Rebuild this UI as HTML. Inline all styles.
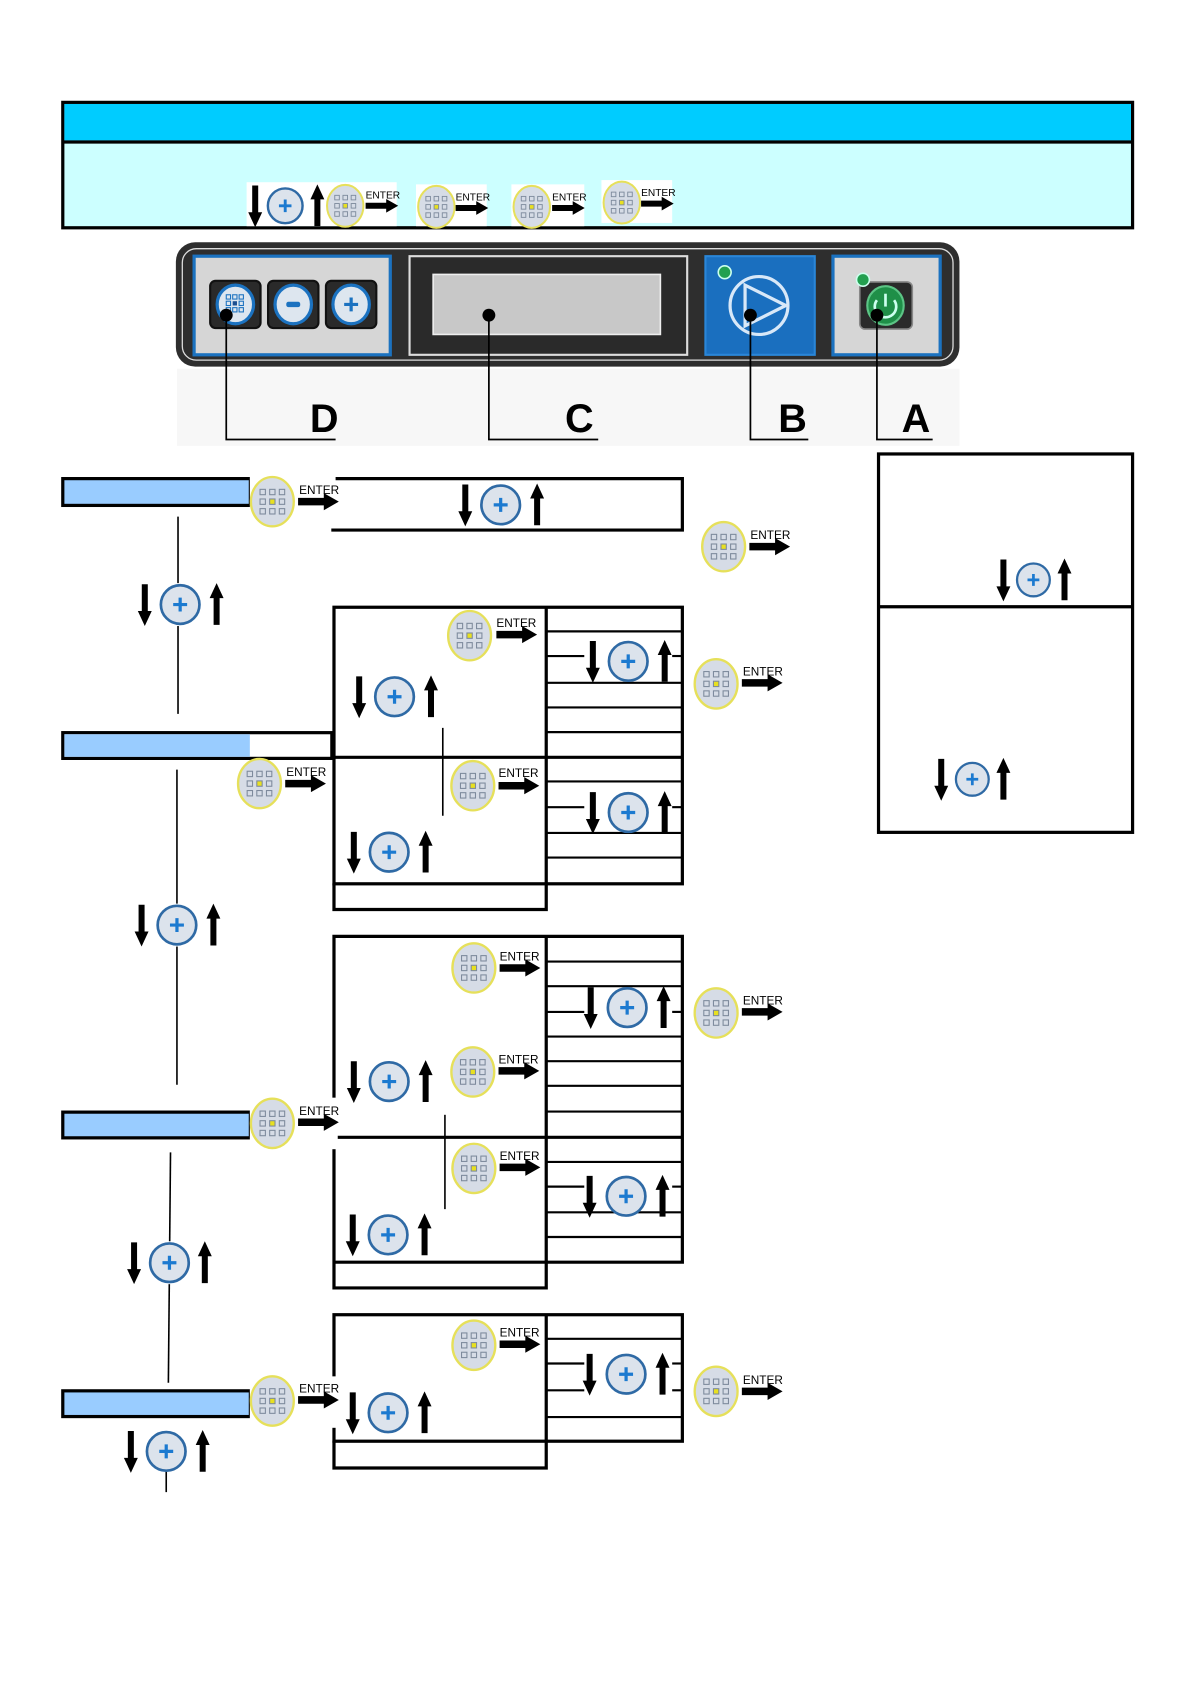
<!DOCTYPE html>
<html><head><meta charset="utf-8"><style>
html,body{margin:0;padding:0;background:#fff;}
svg{display:block;}
text{font-family:"Liberation Sans",sans-serif;}
</style></head><body>
<svg width="1190" height="1684" viewBox="0 0 1110 1571" xmlns="http://www.w3.org/2000/svg">
<defs>
<g id="kp">
 <ellipse cx="0" cy="0" rx="20" ry="23" fill="#d6dce6" stroke="#e6e05a" stroke-width="2.2"/>
 <g fill="none" stroke="#7d8a9c" stroke-width="1">
  <rect x="-11.5" y="-11.5" width="5" height="5"/><rect x="-2.5" y="-11.5" width="5" height="5"/><rect x="6.5" y="-11.5" width="5" height="5"/>
  <rect x="-11.5" y="-2.5" width="5" height="5"/><rect x="6.5" y="-2.5" width="5" height="5"/>
  <rect x="-11.5" y="6.5" width="5" height="5"/><rect x="-2.5" y="6.5" width="5" height="5"/><rect x="6.5" y="6.5" width="5" height="5"/>
 </g>
 <rect x="-2.5" y="-2.5" width="5" height="5" fill="#e8e020" stroke="#7d8a9c" stroke-width="1"/>
</g>
<polygon id="ar" points="0,-3.5 24,-3.5 24,-8 38,0 24,8 24,3.5 0,3.5" fill="#000"/>
<g id="pc">
 <circle cx="0" cy="0" r="18" fill="#dce3ec" stroke="#2f6aa5" stroke-width="2.5"/>
 <path d="M-6.5 0H6.5M0 -6.5V6.5" stroke="#1c7ad0" stroke-width="3"/>
</g>
<polygon id="dn" points="-2.8,-19 2.8,-19 2.8,6 6.5,6 0,20 -6.5,6 -2.8,6" fill="#000"/>
<polygon id="up" points="-2.8,19 2.8,19 2.8,-6 6.5,-6 0,-20 -6.5,-6 -2.8,-6" fill="#000"/>
</defs>

<!-- header -->
<rect x="58.5" y="95.5" width="998" height="117" fill="#ccffff" stroke="#000" stroke-width="3"/>
<rect x="60" y="97" width="995" height="34" fill="#00ccff"/>
<line x1="58" y1="132.5" x2="1057" y2="132.5" stroke="#000" stroke-width="3"/>
<rect x="230" y="170" width="140" height="41" fill="#fff"/>
<rect x="388" y="172" width="66" height="39" fill="#fff"/>
<rect x="477" y="172" width="68" height="39" fill="#fff"/>
<rect x="561" y="168" width="66" height="40" fill="#fff"/>
<use href="#dn" x="238" y="192"/><g transform="translate(266 192) scale(0.9)"><use href="#pc"/></g><use href="#up" x="296" y="192"/>
<g transform="translate(322 192) scale(0.85)"><use href="#kp"/></g><text x="341" y="185" font-size="9.5">ENTER</text><g transform="translate(341 192) scale(0.8)"><use href="#ar"/></g>
<g transform="translate(407 193) scale(0.85)"><use href="#kp"/></g><text x="425" y="187" font-size="9.5">ENTER</text><g transform="translate(425 194) scale(0.8)"><use href="#ar"/></g>
<g transform="translate(496 193) scale(0.85)"><use href="#kp"/></g><text x="515" y="187" font-size="9.5">ENTER</text><g transform="translate(515 194) scale(0.8)"><use href="#ar"/></g>
<g transform="translate(580 189) scale(0.85)"><use href="#kp"/></g><text x="598" y="183" font-size="9.5">ENTER</text><g transform="translate(598 190) scale(0.8)"><use href="#ar"/></g>

<!-- panel -->
<rect x="165" y="344" width="730" height="72" fill="#f7f7f7"/>
<rect x="164" y="226" width="731" height="116" rx="18" fill="#2e2e2e"/>
<rect x="170" y="232" width="719" height="104" rx="13" fill="none" stroke="#ddd" stroke-width="1.2"/>
<rect x="181" y="239" width="183" height="92" fill="#d6d6d6" stroke="#1b72c0" stroke-width="3"/>
<g stroke="#111" stroke-width="2" fill="#2a2a2a">
<rect x="196" y="262" width="47" height="44" rx="5"/><rect x="250" y="262" width="47" height="44" rx="5"/><rect x="304" y="262" width="47" height="44" rx="5"/>
</g>
<g fill="#dde6ef" stroke="#1b72c0" stroke-width="3">
<ellipse cx="219.5" cy="284" rx="17" ry="18"/><ellipse cx="273.5" cy="284" rx="17" ry="18"/><ellipse cx="327.5" cy="284" rx="17" ry="18"/>
</g>
<g fill="none" stroke="#1b72c0" stroke-width="1"><rect x="211" y="275" width="4" height="4"/><rect x="217" y="275" width="4" height="4"/><rect x="223" y="275" width="4" height="4"/><rect x="211" y="281" width="4" height="4"/><rect x="223" y="281" width="4" height="4"/><rect x="211" y="287" width="4" height="4"/><rect x="217" y="287" width="4" height="4"/><rect x="223" y="287" width="4" height="4"/></g>
<rect x="217" y="281" width="4" height="4" fill="#1b4f90"/>
<rect x="267" y="281.5" width="13" height="5" rx="2" fill="#1b72c0"/>
<path d="M321 284H334M327.5 277.5V290.5" stroke="#1b72c0" stroke-width="3"/>
<rect x="382" y="239" width="259" height="92" fill="#2a2a2a" stroke="#ddd" stroke-width="2"/>
<rect x="404" y="256" width="212" height="56" fill="#c8c8c8" stroke="#eee" stroke-width="1.5"/>
<rect x="658" y="239" width="102" height="92" fill="#1a6fbf" stroke="#2a86d8" stroke-width="2"/>
<circle cx="676" cy="254" r="6" fill="#22a050" stroke="#cfe" stroke-width="1.5"/>
<circle cx="708" cy="285" r="27" fill="#1a6fbf" stroke="#d8e8f8" stroke-width="3"/>
<polygon points="695,266 733,285 695,304" fill="none" stroke="#d8e8f8" stroke-width="3"/>
<rect x="777" y="239" width="100" height="92" fill="#d6d6d6" stroke="#1b72c0" stroke-width="3"/>
<rect x="802" y="263" width="49" height="44" rx="5" fill="#2a2a2a" stroke="#888" stroke-width="1.5"/>
<ellipse cx="826" cy="285" rx="17" ry="18" fill="#1f8f48" stroke="#5cc485" stroke-width="2"/>
<path d="M818 280 A10 10 0 1 0 834 280" fill="none" stroke="#cfe" stroke-width="2.5"/><line x1="826" y1="274" x2="826" y2="286" stroke="#cfe" stroke-width="2.5"/>
<circle cx="805" cy="261" r="6" fill="#22a050" stroke="#cfe" stroke-width="1.5"/>
<g fill="#000"><circle cx="211" cy="294" r="6"/><circle cx="456" cy="294" r="6"/><circle cx="700" cy="294" r="6"/><circle cx="818" cy="294" r="6"/></g>
<g fill="none" stroke="#000" stroke-width="1.6">
<path d="M211 294V410H313"/><path d="M456 294V410H558"/><path d="M700 294V410H754"/><path d="M818 294V410H870"/>
</g>
<g font-size="37" font-weight="bold"><text x="289" y="403">D</text><text x="527" y="403">C</text><text x="726" y="403">B</text><text x="841" y="403">A</text></g>

<!-- right box -->
<rect x="819.5" y="423.5" width="237" height="353" fill="none" stroke="#000" stroke-width="3"/>
<line x1="819" y1="566" x2="1057" y2="566" stroke="#000" stroke-width="3"/>
<use href="#dn" x="936" y="541"/><g transform="translate(964 541) scale(0.85)"><use href="#pc"/></g><use href="#up" x="993" y="541"/>
<use href="#dn" x="878" y="727"/><g transform="translate(907 727) scale(0.85)"><use href="#pc"/></g><use href="#up" x="936" y="727"/>

<g stroke="#000" fill="none">
<!-- bar1 / box1 -->
<rect x="58.5" y="446.5" width="175" height="25" fill="#99ccff" stroke-width="3"/>
<path d="M309 446.5H636.5V494.5H309" stroke-width="3"/>
<line x1="166" y1="482" x2="166" y2="666" stroke-width="1.5"/>
<!-- bar2 / box2 -->
<rect x="58.5" y="683.5" width="251" height="24" fill="#fff" stroke-width="3"/>
<rect x="60" y="685" width="173" height="21" fill="#99ccff" stroke="none"/>
<rect x="311.5" y="566.5" width="325" height="258" stroke-width="3"/>
<path d="M311.5 824V848.5H509.5V566" stroke-width="3"/>
<line x1="309" y1="706.5" x2="637" y2="706.5" stroke-width="3"/>
<g stroke-width="2"><line x1="510" y1="589" x2="637" y2="589"/><line x1="510" y1="612" x2="545" y2="612"/><line x1="627" y1="612" x2="637" y2="612"/><line x1="510" y1="637" x2="637" y2="637"/><line x1="510" y1="660" x2="637" y2="660"/><line x1="510" y1="683" x2="637" y2="683"/><line x1="510" y1="729" x2="637" y2="729"/><line x1="510" y1="753" x2="545" y2="753"/><line x1="627" y1="753" x2="637" y2="753"/><line x1="510" y1="777" x2="637" y2="777"/><line x1="510" y1="800" x2="637" y2="800"/></g>
<line x1="413" y1="679" x2="413" y2="761" stroke-width="1.5"/>
<line x1="165" y1="718" x2="165" y2="1012" stroke-width="1.5"/>
<!-- bar3 / box3 -->
<rect x="58.5" y="1037.5" width="175" height="24" fill="#99ccff" stroke-width="3"/>
<path d="M311.5 1072V1201.5H509.5V873.5H636.5V1177.5H311.5M311.5 1060V873.5H510" stroke-width="3"/>
<line x1="311" y1="1061" x2="637" y2="1061" stroke-width="3"/>
<g stroke-width="2"><line x1="510" y1="897" x2="637" y2="897"/><line x1="510" y1="920" x2="637" y2="920"/><line x1="510" y1="944" x2="545" y2="944"/><line x1="627" y1="944" x2="637" y2="944"/><line x1="510" y1="967" x2="637" y2="967"/><line x1="510" y1="990" x2="637" y2="990"/><line x1="510" y1="1013" x2="637" y2="1013"/><line x1="510" y1="1037" x2="637" y2="1037"/><line x1="510" y1="1084" x2="637" y2="1084"/><line x1="510" y1="1107" x2="545" y2="1107"/><line x1="627" y1="1107" x2="637" y2="1107"/><line x1="510" y1="1131" x2="637" y2="1131"/><line x1="510" y1="1154" x2="637" y2="1154"/></g>
<line x1="415" y1="1040" x2="415" y2="1128" stroke-width="1.5"/>
<line x1="159" y1="1075" x2="157" y2="1290" stroke-width="1.5"/>
<!-- bar4 / box4 -->
<rect x="58.5" y="1297.5" width="175" height="24" fill="#99ccff" stroke-width="3"/>
<rect x="311.5" y="1226.5" width="325" height="118" stroke-width="3"/>
<path d="M311.5 1344V1369.5H509.5V1226" stroke-width="3"/>
<g stroke-width="2"><line x1="510" y1="1249" x2="637" y2="1249"/><line x1="510" y1="1272" x2="545" y2="1272"/><line x1="627" y1="1272" x2="637" y2="1272"/><line x1="510" y1="1297" x2="545" y2="1297"/><line x1="627" y1="1297" x2="637" y2="1297"/><line x1="510" y1="1322" x2="637" y2="1322"/></g>
<line x1="155" y1="1372" x2="155" y2="1392" stroke-width="1.5"/>
</g>

<!-- icons: row1 -->
<rect x="233" y="444" width="80" height="48" fill="#fff"/>
<use href="#kp" x="254" y="468"/><text x="279" y="461" font-size="11">ENTER</text><use href="#ar" x="278" y="468"/>
<use href="#dn" x="434" y="471"/><use href="#pc" x="467" y="471"/><use href="#up" x="501" y="471"/>
<use href="#kp" x="675" y="510"/><text x="700" y="503" font-size="11">ENTER</text><use href="#ar" x="699" y="510"/>
<rect x="150" y="544" width="36" height="40" fill="#fff"/>
<use href="#dn" x="135" y="564"/><use href="#pc" x="168" y="564"/><use href="#up" x="202" y="564"/>
<!-- box2 -->
<use href="#kp" x="438" y="593"/><text x="463" y="585" font-size="11">ENTER</text><use href="#ar" x="463" y="592"/>
<use href="#dn" x="335" y="650"/><use href="#pc" x="368" y="650"/><use href="#up" x="402" y="650"/>
<use href="#kp" x="441" y="733"/><text x="465" y="725" font-size="11">ENTER</text><use href="#ar" x="465" y="733"/>
<use href="#dn" x="330" y="795"/><use href="#pc" x="363" y="795"/><use href="#up" x="397" y="795"/>
<use href="#dn" x="553" y="617"/><use href="#pc" x="586" y="617"/><use href="#up" x="620" y="617"/>
<use href="#dn" x="553" y="758"/><use href="#pc" x="586" y="758"/><use href="#up" x="620" y="758"/>
<use href="#kp" x="668" y="638"/><text x="693" y="630" font-size="11">ENTER</text><use href="#ar" x="692" y="637"/>
<use href="#kp" x="242" y="731"/><text x="267" y="724" font-size="11">ENTER</text><use href="#ar" x="266" y="731"/>
<rect x="148" y="843" width="36" height="40" fill="#fff"/>
<use href="#dn" x="132" y="863"/><use href="#pc" x="165" y="863"/><use href="#up" x="199" y="863"/>
<!-- box3 -->
<use href="#kp" x="442" y="903"/><text x="466" y="896" font-size="11">ENTER</text><use href="#ar" x="466" y="903"/>
<use href="#dn" x="551" y="940"/><use href="#pc" x="585" y="940"/><use href="#up" x="619" y="940"/>
<use href="#kp" x="441" y="1000"/><text x="465" y="992" font-size="11">ENTER</text><use href="#ar" x="465" y="999"/>
<use href="#dn" x="330" y="1009"/><use href="#pc" x="363" y="1009"/><use href="#up" x="397" y="1009"/>
<use href="#kp" x="442" y="1090"/><text x="466" y="1082" font-size="11">ENTER</text><use href="#ar" x="466" y="1089"/>
<use href="#dn" x="550" y="1116"/><use href="#pc" x="584" y="1116"/><use href="#up" x="618" y="1116"/>
<use href="#dn" x="329" y="1152"/><use href="#pc" x="362" y="1152"/><use href="#up" x="396" y="1152"/>
<use href="#kp" x="668" y="945"/><text x="693" y="937" font-size="11">ENTER</text><use href="#ar" x="692" y="944"/>
<rect x="233" y="1024" width="82" height="48" fill="#fff"/>
<use href="#kp" x="254" y="1048"/><text x="279" y="1040" font-size="11">ENTER</text><use href="#ar" x="278" y="1047"/>
<rect x="141" y="1158" width="36" height="40" fill="#fff"/>
<use href="#dn" x="125" y="1178"/><use href="#pc" x="158" y="1178"/><use href="#up" x="191" y="1178"/>
<!-- box4 -->
<use href="#kp" x="442" y="1255"/><text x="466" y="1247" font-size="11">ENTER</text><use href="#ar" x="466" y="1254"/>
<use href="#dn" x="550" y="1282"/><use href="#pc" x="584" y="1282"/><use href="#up" x="618" y="1282"/>
<use href="#dn" x="329" y="1318"/><use href="#pc" x="362" y="1318"/><use href="#up" x="396" y="1318"/>
<use href="#kp" x="668" y="1298"/><text x="693" y="1291" font-size="11">ENTER</text><use href="#ar" x="692" y="1298"/>
<rect x="233" y="1284" width="82" height="48" fill="#fff"/>
<use href="#kp" x="254" y="1307"/><text x="279" y="1299" font-size="11">ENTER</text><use href="#ar" x="278" y="1306"/>
<use href="#dn" x="122" y="1354"/><use href="#pc" x="155" y="1354"/><use href="#up" x="189" y="1354"/>
</svg>
</body></html>
